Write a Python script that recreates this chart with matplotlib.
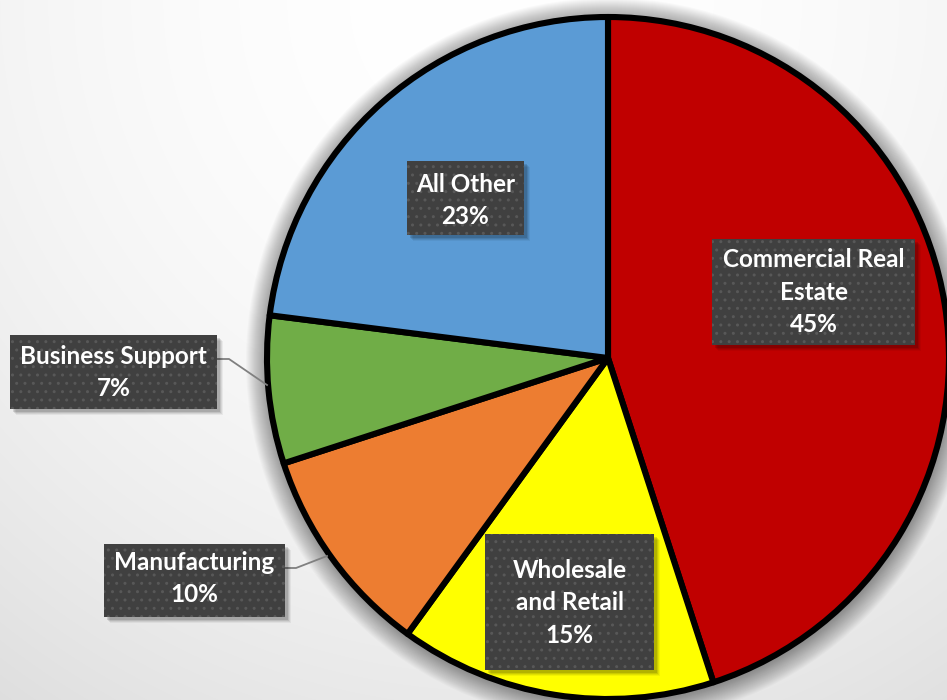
import numpy as np
import matplotlib
matplotlib.use("Agg")
from matplotlib import pyplot as plt
from matplotlib.patches import Rectangle, Circle

# Loan portfolio mix by sector
sectors = ["Commercial Real\nEstate", "Wholesale\nand Retail", "Manufacturing",
           "Business Support", "All Other"]
shares = [45, 15, 10, 7, 23]
colors = ["#C00000", "#FFFF00", "#ED7D31", "#70AD47", "#5B9BD5"]

W, H = 947, 700
plt.rcParams['font.family'] = ['Lato', 'DejaVu Sans']

fig = plt.figure(figsize=(W / 100, H / 100), dpi=100)
ax = fig.add_axes([0, 0, 1, 1])

# soft radial background
yy, xx = np.mgrid[0:H, 0:W]
d2 = (xx - 500.0) ** 2 + (yy + 0.0) ** 2
shade = np.clip(255 - 4.4e-5 * d2, 200, 255) / 255.0
ax.imshow(np.dstack([shade] * 3), extent=(0, W, 0, H), origin='upper',
          zorder=0, interpolation='bilinear')

cx, cy, r = 608, H - 358, 341

# halo shadow behind the pie
for k in range(22, 0, -1):
    ax.add_patch(Circle((cx + 1, cy - 3), r + k, color='black',
                        alpha=0.018, lw=0, zorder=1))

ax.pie(shares, colors=colors, startangle=90, counterclock=False,
       center=(cx, cy), radius=r,
       wedgeprops=dict(edgecolor='black', linewidth=4.4, zorder=2,
                       joinstyle='round'))

# leader lines (pixel coords, y down)
leaders = [[(217, 359), (229, 359), (267, 385)],
           [(285, 568), (296, 568), (327, 556)]]
for pts in leaders:
    xs = [p[0] for p in pts]
    ys = [H - p[1] for p in pts]
    ax.plot(xs, ys, color='#808080', lw=1.3, zorder=3)

# label boxes: x0, y0, x1, y1 and first baseline (pixel coords, y down)
boxes = [(712, 239, 915, 345, 267),
         (485, 534, 654, 670, 578),
         (104, 544, 285, 617, 570),
         (10, 335, 217, 409, 364),
         (407, 161, 524, 235, 191.7)]

for name, pct, (x0, y0, x1, y1, base) in zip(sectors, shares, boxes):
    w, h = x1 - x0, y1 - y0
    # drop shadow
    for k, a in [(6, 0.05), (5, 0.07), (4, 0.09), (3, 0.12)]:
        ax.add_patch(Rectangle((x0 + k, H - y1 - k), w, h, color='black',
                               alpha=a, lw=0, zorder=4))
    ax.add_patch(Rectangle((x0, H - y1), w, h, facecolor='#404040',
                           lw=0, zorder=5))
    ax.add_patch(Rectangle((x0, H - y1), w, h, facecolor='none',
                           edgecolor='#585858', hatch='..', lw=0, zorder=6))
    lines = (name + "\n" + f"{pct}%").split("\n")
    for i, txt in enumerate(lines):
        ax.text((x0 + x1) / 2, H - (base + i * 32.5), txt, color='white',
                fontsize=17.5, fontweight='bold', ha='center', va='baseline',
                zorder=7)

ax.set_xlim(0, W)
ax.set_ylim(0, H)
ax.set_aspect('equal')
ax.axis('off')

plt.savefig('out.png', dpi=100)
